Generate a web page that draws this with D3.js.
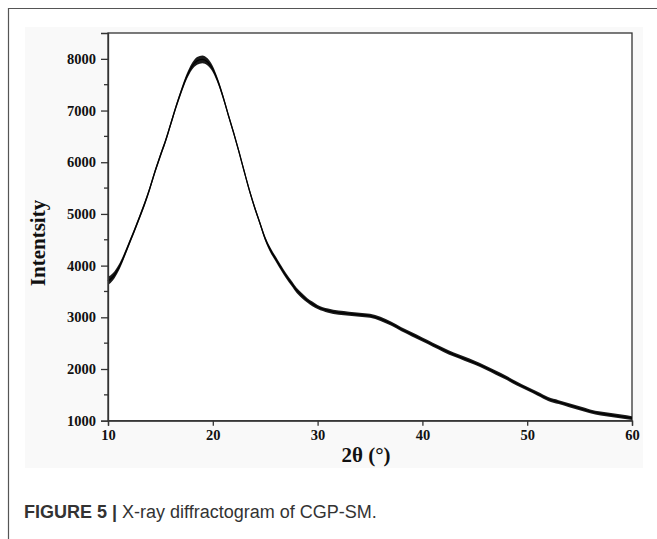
<!DOCTYPE html>
<html>
<head>
<meta charset="utf-8">
<script src="https://d3js.org/d3.v7.min.js"></script>
<style>
  body { margin: 0; background: #fff; }
  svg { display: block; }
</style>
</head>
<body>
<div id="chart"></div>
<script>
// 2-theta positions (degrees)
const twoTheta = [
  10, 10.5, 11, 11.5, 12, 12.5, 13, 13.5, 14, 14.5, 15, 15.5, 16, 16.5, 17, 17.5,
  18, 18.5, 19, 19.5, 20, 20.5, 21, 21.5, 22, 22.5, 23, 23.5, 24, 24.5, 25, 25.5,
  26, 26.5, 27, 27.5, 28, 28.5, 29, 29.5, 30, 31, 32, 33, 34, 35, 36, 37, 38, 39,
  40, 41, 42, 43, 44, 45, 46, 47, 48, 49, 50, 51, 52, 53, 54, 55, 56, 57, 58, 59, 60
];
// mean intensity at each position
const intensity = [
  3700, 3790, 3950, 4170, 4420, 4670, 4930, 5200, 5500, 5830, 6130, 6420, 6750, 7080, 7380, 7650,
  7850, 7960, 7990, 7940, 7800, 7560, 7250, 6900, 6560, 6200, 5820, 5450, 5120, 4820, 4520, 4300,
  4130, 3960, 3800, 3660, 3520, 3420, 3330, 3260, 3200, 3130, 3090, 3070, 3050, 3030, 2970, 2880, 2770, 2670,
  2570, 2470, 2370, 2280, 2200, 2120, 2030, 1930, 1830, 1720, 1620, 1520, 1420, 1360, 1300, 1240, 1180, 1140, 1110, 1080, 1050
];
// half-width of the noise band at each position
const noise = [
  80, 70, 60, 50, 45, 45, 45, 45, 45, 45, 45, 45, 45, 45, 50, 55,
  65, 75, 75, 70, 60, 50, 45, 40, 40, 40, 40, 40, 40, 40, 45, 50,
  50, 50, 50, 50, 50, 50, 45, 45, 40, 40, 40, 40, 40, 40, 40, 40, 40, 40,
  40, 40, 40, 40, 40, 40, 40, 40, 40, 40, 38, 38, 38, 38, 38, 38, 38, 38, 38, 38, 38
];
const xTicks = [10, 20, 30, 40, 50, 60];
const yTicks = [1000, 2000, 3000, 4000, 5000, 6000, 7000, 8000];
const yMinor = [1500, 2500, 3500, 4500, 5500, 6500, 7500];

const width = 657, height = 539;
const plot = { left: 108, right: 632, top: 33, bottom: 420.7 };
const serif = "'Liberation Serif', 'Times New Roman', serif";

const svg = d3.select("#chart").append("svg")
  .attr("width", width)
  .attr("height", height);

// page frame lines
svg.append("path")
  .attr("d", `M8.5,${height} V8.5 H${width}`)
  .attr("fill", "none")
  .attr("stroke", "#555")
  .attr("stroke-width", 1.2);

// faint panel behind the figure
svg.append("rect")
  .attr("x", 25).attr("y", 27)
  .attr("width", 618).attr("height", 441)
  .attr("fill", "#f9f9f9");

const x = d3.scaleLinear().domain([10, 60]).range([plot.left, plot.right]);
const y = d3.scaleLinear().domain([1000, 8500]).range([plot.bottom, plot.top]);

const data = twoTheta.map((t, i) => ({ t: t, v: intensity[i], n: noise[i] }));

// plot box
svg.append("rect")
  .attr("x", plot.left).attr("y", plot.top)
  .attr("width", plot.right - plot.left).attr("height", plot.bottom - plot.top)
  .attr("fill", "#fff")
  .attr("stroke", "#333")
  .attr("stroke-width", 1.3);

// noisy band + mean trace
svg.append("path")
  .datum(data)
  .attr("fill", "#1a1a1a")
  .attr("d", d3.area()
    .x(d => x(d.t))
    .y0(d => y(d.v - d.n))
    .y1(d => y(d.v + d.n))
    .curve(d3.curveMonotoneX));

svg.append("path")
  .datum(data)
  .attr("fill", "none")
  .attr("stroke", "#000")
  .attr("stroke-width", 1.3)
  .attr("d", d3.line()
    .x(d => x(d.t))
    .y(d => y(d.v))
    .curve(d3.curveMonotoneX));

// axes
const xAxis = svg.append("g")
  .attr("transform", `translate(0,${plot.bottom})`)
  .call(d3.axisBottom(x).tickValues(xTicks).tickSize(5).tickPadding(4).tickFormat(d3.format("d")));

const yAxis = svg.append("g")
  .attr("transform", `translate(${plot.left},0)`)
  .call(d3.axisLeft(y).tickValues(yTicks).tickSize(7).tickPadding(5).tickFormat(d3.format("d")));

yAxis.selectAll(".minor")
  .data(yMinor)
  .enter().append("line")
  .attr("class", "minor")
  .attr("x1", -4).attr("x2", 0)
  .attr("y1", d => y(d)).attr("y2", d => y(d))
  .attr("stroke", "#333")
  .attr("stroke-width", 1.3);

[xAxis, yAxis].forEach(g => {
  g.select(".domain").attr("stroke", "#333").attr("stroke-width", 1.3);
  g.selectAll(".tick line").attr("stroke", "#333").attr("stroke-width", 1.3);
  g.selectAll("text")
    .attr("fill", "#111")
    .style("font-family", serif)
    .style("font-weight", "bold")
    .style("font-size", "14.5px");
});

// axis titles
svg.append("text")
  .attr("transform", "rotate(-90)")
  .attr("x", -243)
  .attr("y", 45)
  .attr("text-anchor", "middle")
  .style("font-family", serif)
  .style("font-weight", "bold")
  .style("font-size", "21px")
  .attr("fill", "#111")
  .text("Intentsity");

svg.append("text")
  .attr("x", 366)
  .attr("y", 462)
  .attr("text-anchor", "middle")
  .style("font-family", serif)
  .style("font-weight", "bold")
  .style("font-size", "21px")
  .attr("fill", "#111")
  .text("2θ (°)");

// caption
const cap = svg.append("text")
  .attr("x", 24)
  .attr("y", 518)
  .style("font-family", "'Liberation Sans', Arial, sans-serif")
  .style("font-size", "18px")
  .attr("fill", "#333");
cap.append("tspan").style("font-weight", "bold").text("FIGURE 5 | ");
cap.append("tspan").text("X-ray diffractogram of CGP-SM.");
</script>
</body>
</html>
